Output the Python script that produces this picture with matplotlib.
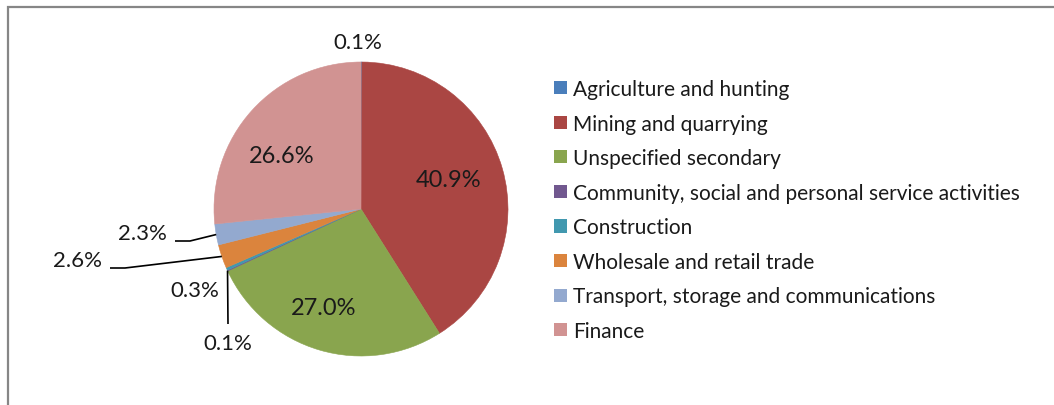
"""Share of FDI by sector - pie chart"""

import matplotlib.pyplot as plt
from matplotlib.patches import Patch, Rectangle
import numpy as np

plt.rcParams["font.family"] = ["Lato", "DejaVu Sans"]

# data
sectors = [
    "Agriculture and hunting",
    "Mining and quarrying",
    "Unspecified secondary",
    "Community, social and personal service activities",
    "Construction",
    "Wholesale and retail trade",
    "Transport, storage and communications",
    "Finance",
]
shares = [0.1, 40.9, 27.0, 0.1, 0.3, 2.6, 2.3, 26.6]
colors = ["#4A7EBB", "#AA4643", "#89A54E", "#71588F",
          "#4198AF", "#DB843D", "#93A9CF", "#D19392"]

W, H = 1054, 406
FS = 15

fig = plt.figure(figsize=(W / 100, H / 100), dpi=100)
ax = fig.add_axes([0, 0, 1, 1])

cx, cy, R = 361, H - 210, 147
wedges, _ = ax.pie(shares, colors=colors, startangle=90, counterclock=False,
                   center=(cx, cy), radius=R)
for w in wedges:
    w.set_edgecolor(w.get_facecolor())
    w.set_linewidth(0.4)
ax.set_xlim(0, W)
ax.set_ylim(0, H)
ax.set_aspect("equal")
ax.axis("off")


def edge_point(w, r=1.0):
    a = np.deg2rad((w.theta1 + w.theta2) / 2)
    return cx + r * R * np.cos(a), cy + r * R * np.sin(a)


# labels inside the big slices: (index, radius fraction, angle shift)
inside = {1: (0.63, 2.5), 2: (0.72, -4.5), 7: (0.65, 8)}
for i, (rf, da) in inside.items():
    w = wedges[i]
    a = np.deg2rad((w.theta1 + w.theta2) / 2 + da)
    ax.text(cx + rf * R * np.cos(a), cy + rf * R * np.sin(a), f"{shares[i]:.1f}%",
            ha="center", va="center", fontsize=17, color="#1a1a1a")

# small slices: label position (image px) and leader elbow points
outside = {
    0: ((358, 43), None),
    6: ((142, 234), [(175, 242), (190, 242)]),
    5: ((77, 261), [(110, 269), (125, 269)]),
    4: ((195, 291), None),
    3: ((228, 344), [(228, 325)]),
}
for i, ((lx, ly), pts) in outside.items():
    ax.text(lx, H - ly, f"{shares[i]:.1f}%", ha="center", va="center",
            fontsize=16, color="#1a1a1a")
    if pts:
        ex, ey = edge_point(wedges[i])
        xs = [p[0] for p in pts] + [ex]
        ys = [H - p[1] for p in pts] + [ey]
        ax.plot(xs, ys, color="black", lw=1.2, solid_capstyle="butt")

# legend
handles = [Patch(facecolor=c, edgecolor="none") for c in colors]
ax.legend(handles, sectors, loc="upper left", bbox_to_anchor=(554, H - 80),
          bbox_transform=ax.transData, frameon=False, fontsize=FS,
          handlelength=0.6, handleheight=0.6, handletextpad=0.3,
          labelspacing=0.7, borderpad=0, borderaxespad=0,
          labelcolor="#1a1a1a")

# chart frame (top and left edges visible)
ax.add_patch(Rectangle((7.5, -20), 1200, H - 7.5 + 20, fill=False,
                       edgecolor="#868686", lw=1.6, clip_on=False))

plt.savefig("out.png", dpi=100)
